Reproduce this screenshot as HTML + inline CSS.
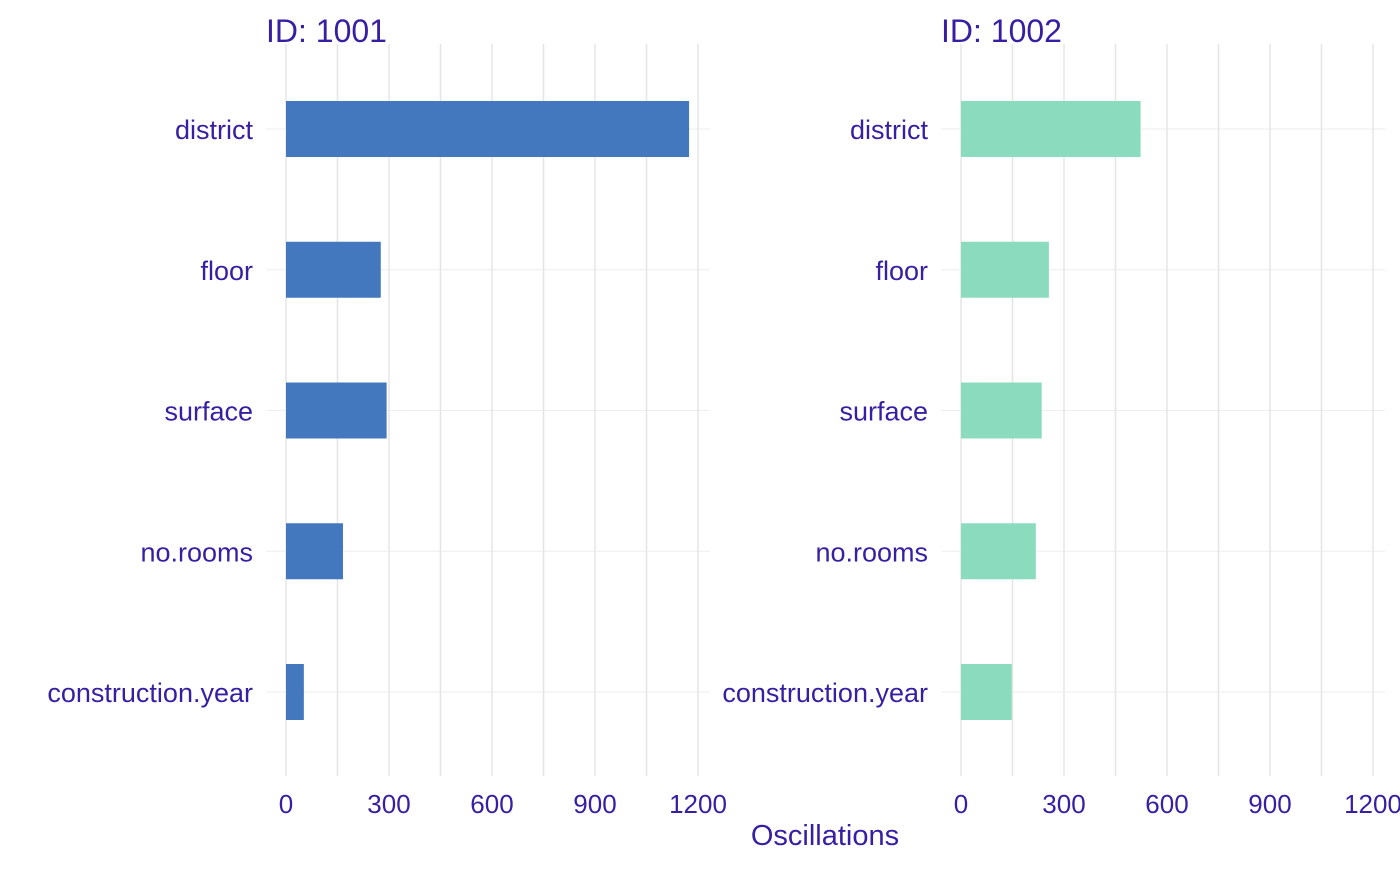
<!DOCTYPE html>
<html><head><meta charset="utf-8"><style>
body{margin:0;background:#fff;}
svg text{font-family:"Liberation Sans",Arial,sans-serif;fill:#371ea3;}
</style></head><body>
<svg id="chart" width="1400" height="866"></svg>
<script>
const categories=["district","floor","surface","no.rooms","construction.year"];
const panelIds=["ID: 1001","ID: 1002"];
const values1001=[1174,276,293,166,52];
const values1002=[523,256,235,218,148];
const tickValues=[0,300,600,900,1200];
const minorTicks=[150,450,750,1050];
const seriesList=[values1001,values1002];
const colors=["#4378bf","#8bdcbe"];
const NS="http://www.w3.org/2000/svg";
const svg=document.getElementById("chart");
function mk(t,a,p){const e=document.createElementNS(NS,t);for(const k in a)e.setAttribute(k,a[k]);(p||svg).appendChild(e);return e;}
const origins=[286,961];
const scale=412/1200;
const yTop=44,yBot=776;
function yC(i){return 129+i*140.75;}
seriesList.forEach((vals,p)=>{
  const x0=origins[p];
  const xs=v=>x0+v*scale;
  const g=mk("g",{});
  
  
  categories.forEach((c,i)=>{
    const l=mk("line",{x1:x0-20,x2:x0+424,y1:yC(i),y2:yC(i),stroke:"#eeeeee","stroke-width":1},g);
    
    
  });
  tickValues.concat(minorTicks).forEach(v=>{
    const l=mk("line",{x1:xs(v),x2:xs(v),y1:yTop,y2:yBot,stroke:"#e5e5e5","stroke-width":1.5},g);
    
    
  });
  vals.forEach((v,i)=>{
    const r=mk("rect",{x:x0,y:yC(i)-28,width:xs(v)-x0,height:56,fill:colors[p]},g);
    
    
    const t=mk("text",{x:x0-33,y:yC(i)+10,"text-anchor":"end","font-size":27},g);
    t.textContent=categories[i];
    
    
  });
  tickValues.forEach(v=>{
    const t=mk("text",{x:xs(v),y:813,"text-anchor":"middle","font-size":26},g);
    t.textContent=v;
    
    
  });
  const ti=mk("text",{x:x0-20,y:42,"font-size":32},g);
  ti.textContent=panelIds[p];
  
  
});
const xt=mk("text",{x:825,y:845,"text-anchor":"middle","font-size":29});
xt.textContent="Oscillations";


</script>
</body></html>
